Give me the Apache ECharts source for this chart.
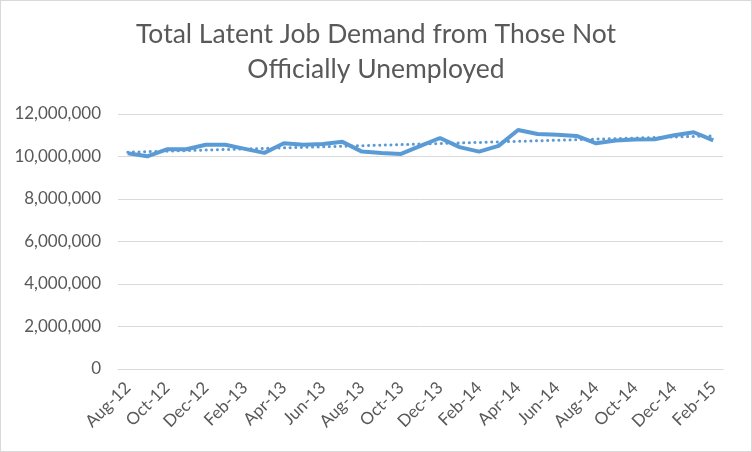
<!DOCTYPE html>
<html>
<head>
<meta charset="utf-8">
<script src="https://cdn.jsdelivr.net/npm/echarts@6/dist/echarts.min.js"></script>
<style>
  html, body { margin: 0; padding: 0; background: #fff; }
  #chart { width: 752px; height: 452px; box-sizing: border-box; border: 1px solid #d9d9d9; }
</style>
</head>
<body>
<div id="chart"></div>
<script>
// 月份（每月一个点，轴上隔一个显示）
const months = [
    'Aug-12', 'Sep-12', 'Oct-12', 'Nov-12', 'Dec-12', 'Jan-13', 'Feb-13', 'Mar-13',
    'Apr-13', 'May-13', 'Jun-13', 'Jul-13', 'Aug-13', 'Sep-13', 'Oct-13', 'Nov-13',
    'Dec-13', 'Jan-14', 'Feb-14', 'Mar-14', 'Apr-14', 'May-14', 'Jun-14', 'Jul-14',
    'Aug-14', 'Sep-14', 'Oct-14', 'Nov-14', 'Dec-14', 'Jan-15', 'Feb-15'
];

// 潜在就业需求总量
const latentDemand = [
    10150000, 10010000, 10340000, 10340000, 10550000, 10550000, 10360000, 10170000,
    10620000, 10550000, 10590000, 10690000, 10230000, 10170000, 10120000, 10500000,
    10870000, 10440000, 10230000, 10500000, 11250000, 11060000, 11020000, 10970000,
    10620000, 10750000, 10800000, 10810000, 11000000, 11140000, 10760000
];

// 趋势线两端的值
const trendStart = 10200000;
const trendEnd = 10970000;

const yTicks = { min: 0, max: 12000000, interval: 2000000 };

const textColor = '#595959';
const lineColor = '#5b9bd5';
const fontFamily = 'Lato, "Open Sans", sans-serif';

const trendData = months.map((m, i) => {
    if (i === 0) return trendStart;
    if (i === months.length - 1) return trendEnd;
    return null;
});

const chart = echarts.init(document.getElementById('chart'));

const option = {
    animation: false,
    title: {
        text: 'Total Latent Job Demand from Those Not\nOfficially Unemployed',
        left: 'center',
        top: 11,
        textStyle: {
            color: textColor,
            fontFamily: fontFamily,
            fontWeight: 'normal',
            fontSize: 26.5,
            lineHeight: 35
        }
    },
    grid: { left: 117, right: 28, top: 113, bottom: 82 },
    xAxis: {
        type: 'category',
        data: months,
        boundaryGap: true,
        axisLine: { lineStyle: { color: '#d9d9d9' } },
        axisTick: { show: false },
        axisLabel: {
            interval: 1,
            rotate: 45,
            margin: 16,
            color: textColor,
            fontFamily: fontFamily,
            fontSize: 17
        }
    },
    yAxis: {
        type: 'value',
        min: yTicks.min,
        max: yTicks.max,
        interval: yTicks.interval,
        axisLine: { show: false },
        axisTick: { show: false },
        splitLine: { lineStyle: { color: '#d9d9d9' } },
        axisLabel: {
            margin: 17,
            color: textColor,
            fontFamily: fontFamily,
            fontSize: 17,
            formatter: v => v.toLocaleString('en-US')
        }
    },
    series: [
        {
            name: 'Total Latent Job Demand',
            type: 'line',
            data: latentDemand,
            symbol: 'none',
            lineStyle: { color: lineColor, width: 4 }
        },
        {
            name: 'Linear trend',
            type: 'line',
            data: trendData,
            connectNulls: true,
            symbol: 'none',
            lineStyle: { color: lineColor, width: 3, type: [0.1, 5.5], cap: 'round' }
        }
    ]
};

chart.setOption(option);
</script>
</body>
</html>
